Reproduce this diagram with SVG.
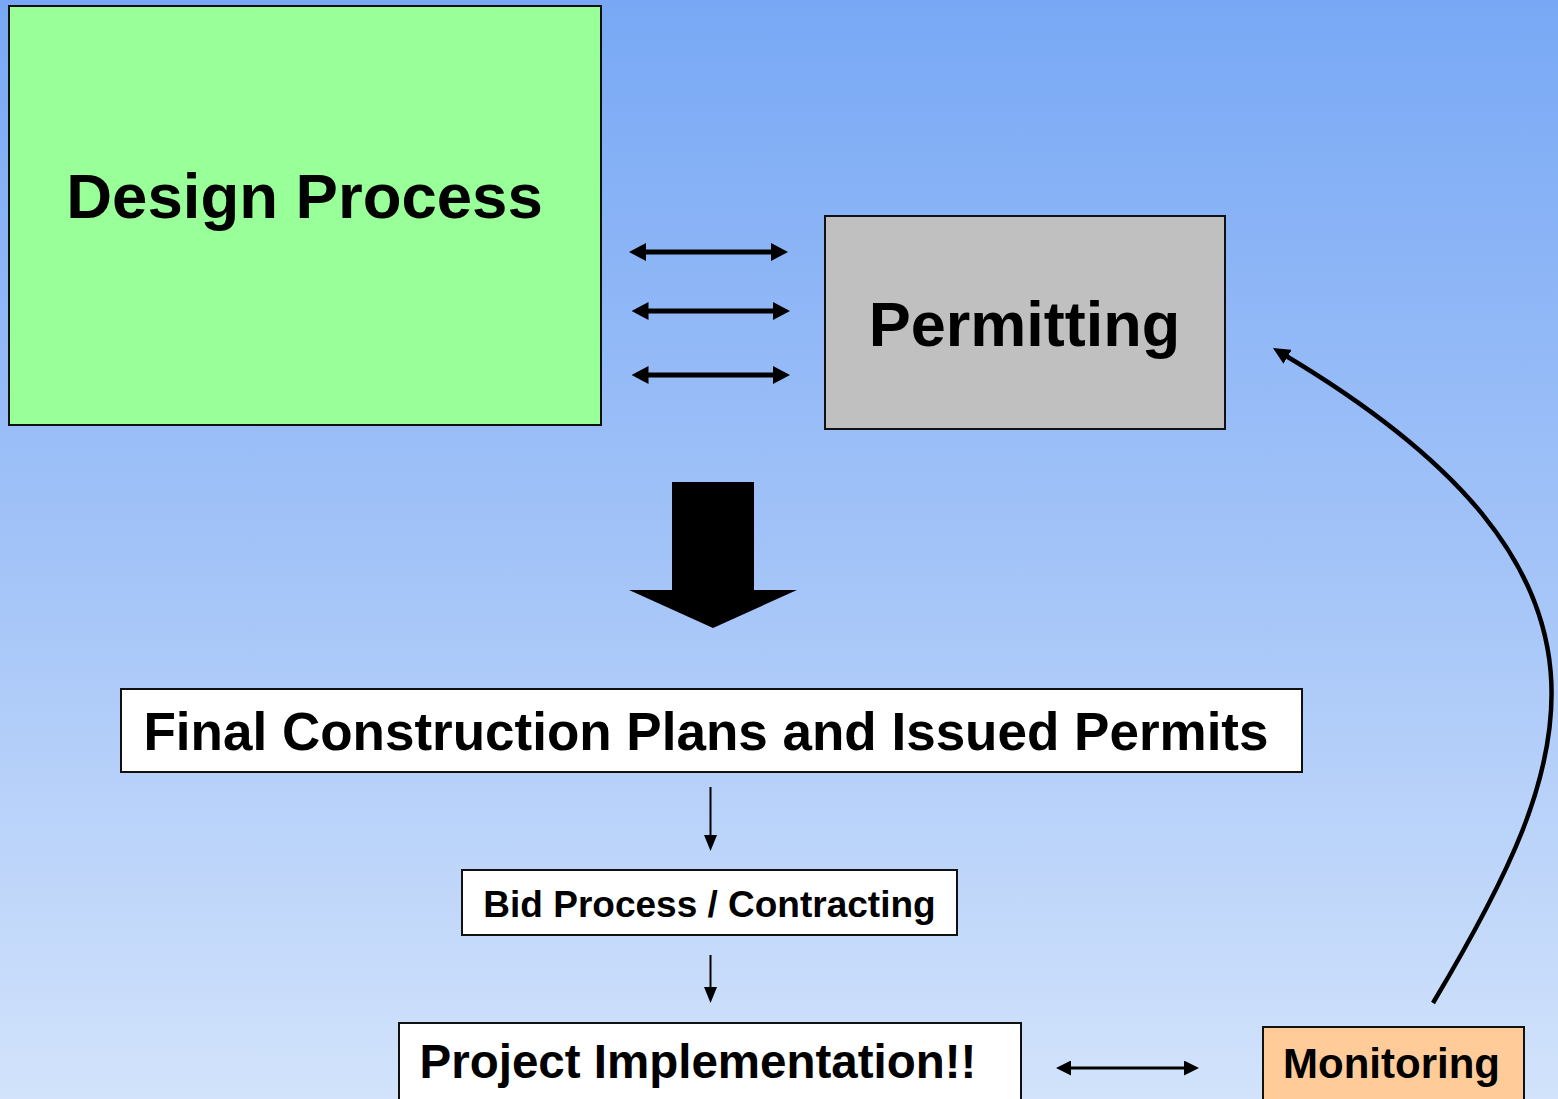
<svg xmlns="http://www.w3.org/2000/svg" width="1558" height="1099" viewBox="0 0 1558 1099">
  <defs>
    <linearGradient id="bg" x1="0" y1="0" x2="0" y2="1">
      <stop offset="0" stop-color="#78a8f5"/>
      <stop offset="0.5" stop-color="#a2c3f8"/>
      <stop offset="1" stop-color="#d2e3fb"/>
    </linearGradient>
    <marker id="headBig" markerUnits="userSpaceOnUse" viewBox="0 0 17 18" markerWidth="17" markerHeight="18" refX="6" refY="9" orient="auto-start-reverse">
      <path d="M0,0 L17,9 L0,18 z" fill="#000"/>
    </marker>
    <marker id="headMid" markerUnits="userSpaceOnUse" viewBox="0 0 15 15" markerWidth="15" markerHeight="15" refX="5" refY="7.5" orient="auto-start-reverse">
      <path d="M0,0 L15,7.5 L0,15 z" fill="#000"/>
    </marker>
    <marker id="headSmall" markerUnits="userSpaceOnUse" viewBox="0 0 16 13" markerWidth="16" markerHeight="13" refX="6" refY="6.5" orient="auto">
      <path d="M0,0 L16,6.5 L0,13 z" fill="#000"/>
    </marker>
    <marker id="headCurve" markerUnits="userSpaceOnUse" viewBox="0 0 17 16" markerWidth="17" markerHeight="16" refX="6" refY="8" orient="auto">
      <path d="M0,0 L17,8 L0,16 z" fill="#000"/>
    </marker>
  </defs>
  <style>
    .box { stroke: #111; stroke-width: 2; }
    .label { font-family: "Liberation Sans", Arial, sans-serif; font-weight: bold; fill: #000; text-anchor: middle; }
    .link { stroke: #000; fill: none; }
  </style>

  <rect x="0" y="0" width="1558" height="1099" fill="url(#bg)"/>

  <g id="design-process">
    <rect class="box" x="9" y="6" width="592" height="419" fill="#99ff99"/>
    <text class="label" x="304.5" y="218" font-size="63.5">Design Process</text>
  </g>

  <g id="permitting">
    <rect class="box" x="825" y="216" width="400" height="213" fill="#c0c0c0"/>
    <text class="label" x="1024.5" y="346" font-size="63">Permitting</text>
  </g>

  <g id="final-plans">
    <rect class="box" x="121" y="689" width="1181" height="83" fill="#ffffff"/>
    <text class="label" x="706" y="750" font-size="53">Final Construction Plans and Issued Permits</text>
  </g>

  <g id="bid-process">
    <rect class="box" x="462" y="870" width="495" height="65" fill="#ffffff"/>
    <text class="label" x="709.5" y="917" font-size="37">Bid Process / Contracting</text>
  </g>

  <g id="implementation">
    <rect class="box" x="399" y="1023" width="622" height="90" fill="#ffffff"/>
    <text class="label" x="698" y="1078" font-size="47.5">Project Implementation!!</text>
  </g>

  <g id="monitoring">
    <rect class="box" x="1263" y="1027" width="261" height="86" fill="#ffcc99"/>
    <text class="label" x="1391.5" y="1078" font-size="42">Monitoring</text>
  </g>

  <g id="connectors">
    <!-- design / permitting exchange -->
    <line class="link" x1="640" y1="252" x2="777" y2="252" stroke-width="5" marker-start="url(#headBig)" marker-end="url(#headBig)"/>
    <line class="link" x1="642.5" y1="311" x2="779" y2="311" stroke-width="5" marker-start="url(#headBig)" marker-end="url(#headBig)"/>
    <line class="link" x1="642.5" y1="375" x2="779" y2="375" stroke-width="5" marker-start="url(#headBig)" marker-end="url(#headBig)"/>

    <!-- block arrow down to final plans -->
    <polygon points="672,482 754,482 754,590 797,590 713,628 629,590 672,590" fill="#000"/>

    <!-- sequence arrows -->
    <line class="link" x1="710.5" y1="787" x2="710.5" y2="841" stroke-width="2" marker-end="url(#headSmall)"/>
    <line class="link" x1="710.5" y1="955" x2="710.5" y2="993" stroke-width="2" marker-end="url(#headSmall)"/>

    <!-- implementation / monitoring exchange -->
    <line class="link" x1="1066" y1="1068" x2="1189" y2="1068" stroke-width="3" marker-start="url(#headMid)" marker-end="url(#headMid)"/>

    <!-- feedback from monitoring to permitting -->
    <path class="link" d="M1433,1003 C1575,765 1655,575 1282.4,353.7" stroke-width="4.5" marker-end="url(#headCurve)"/>
  </g>
</svg>
